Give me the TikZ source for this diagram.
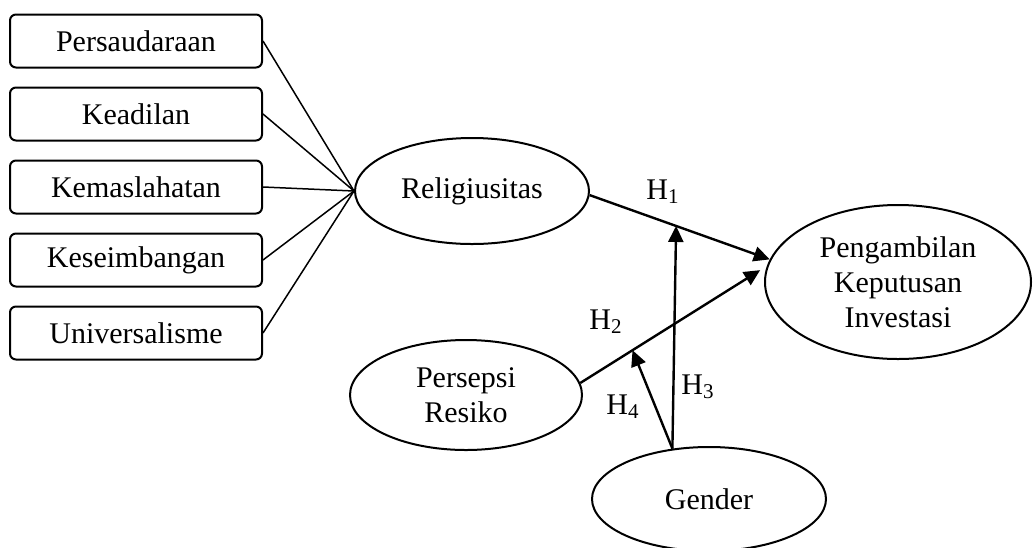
\documentclass[tikz,border=0pt]{standalone}
\usepackage{fontspec}
\setmainfont{Liberation Serif}
\usetikzlibrary{positioning}
\usetikzlibrary{shapes.geometric}
\usetikzlibrary{arrows.meta}
\tikzstyle{dimbox} = [draw=black, rounded corners=3pt, line width=1pt, minimum width=126pt, minimum height=26.5pt, inner sep=1pt, font=\fontsize{15}{17.5}\selectfont, node distance=9pt]
\tikzstyle{latentV} = [ellipse, draw=black, line width=1pt, inner sep=1pt, align=center, font=\fontsize{15}{17.5}\selectfont]
\tikzstyle{hyp} = [-{Triangle[length=8pt,width=7.5pt]}, line width=1.2pt]
\tikzstyle{ind} = [line width=0.75pt]
\tikzstyle{hlabel} = [font=\fontsize{15}{17.5}\selectfont, inner sep=0pt]

\begin{document}
\begin{tikzpicture}[x=0.5pt, y=-0.5pt]
\clip (0,0) rectangle (1033,547);

% Define nodes
\node[dimbox] at (136,41)     (p1) {Persaudaraan};
\node[dimbox, below = of p1]  (p2) {Keadilan};
\node[dimbox, below = of p2]  (p3) {Kemaslahatan};
\node[dimbox, below = of p3]  (p4) {Keseimbangan};
\node[dimbox, below = of p4]  (p5) {Universalisme};

\node[latentV, minimum width=117pt, minimum height=53pt] at (472,191) (rel)  {Religiusitas};
\node[latentV, minimum width=133pt, minimum height=77pt] at (898,282) (peng) {Pengambilan\\Keputusan\\Investasi};
\node[latentV, minimum width=116pt, minimum height=55pt] at (466,395) (pers) {Persepsi\\Resiko};
\node[latentV, minimum width=117pt, minimum height=52pt] at (709,499) (gen)  {Gender};

% Points where the moderating arrows meet
\path (rel.358) -- (peng.170) coordinate[pos=0.48] (m1);
\path (pers.6)  -- (peng.173) coordinate[pos=0.28] (m2);

% Edges
\foreach \b in {p1,p2,p3,p4,p5}
  \draw[ind] (\b.east) -- (rel.west);
\draw[hyp] (rel.358) -- (peng.170);
\draw[hyp, shorten >=4pt] (pers.6) -- (peng.173);
\draw[hyp] (gen.126) -- (m1);
\draw[hyp] (gen.126) -- (m2);

% Labels
\node[hlabel] at (663,192) (h1) {H\textsubscript{1}};
\node[hlabel] at (606,322) (h2) {H\textsubscript{2}};
\node[hlabel] at (698,387) (h3) {H\textsubscript{3}};
\node[hlabel] at (623,407) (h4) {H\textsubscript{4}};
\end{tikzpicture}
\end{document}
